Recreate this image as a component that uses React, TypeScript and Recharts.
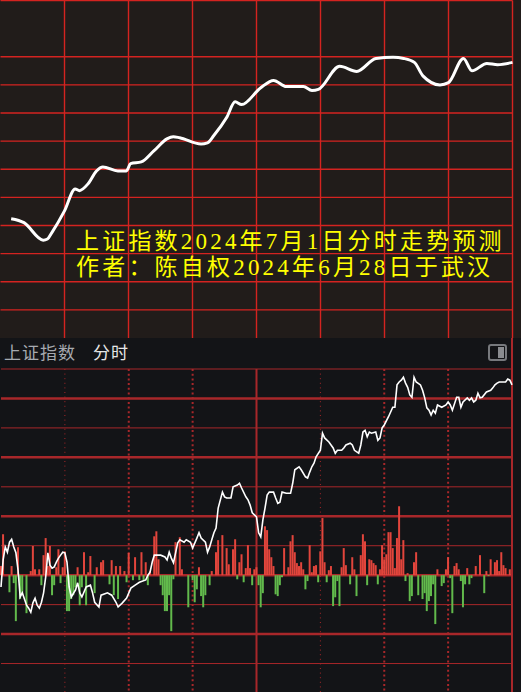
import React from 'react';
import { LineChart, ComposedChart, Line, Bar, Cell, XAxis, YAxis, CartesianGrid } from 'recharts';

// Session clock: 240 trading minutes, gridlines every half hour
const timeTicks = [0, 30, 60, 90, 120, 150, 180, 210, 240];

// Upper panel: forecast curve for 2024-07-01 [minute, index]
const forecastPoints: [number, number][] = [
  [5, 2951.2], [11, 2950.5], [20, 2947.4], [22, 2947.6], [24, 2948.7], [30, 2952.6],
  [35, 2956.5], [37, 2956.2], [41, 2957.4], [45, 2959.7], [48, 2960.4], [55, 2959.7],
  [59, 2959.7], [61, 2961.0], [66, 2961.3], [72, 2963.3], [78, 2965.4], [81, 2965.8],
  [84, 2965.6], [94, 2964.5], [97, 2964.7], [100, 2966.0], [106, 2969.2], [110, 2972.0],
  [113, 2971.5], [122, 2974.5], [128, 2975.8], [134, 2974.7], [142, 2974.7], [146, 2974.0],
  [149, 2974.2], [159, 2978.3], [167, 2977.4], [176, 2979.7], [184, 2979.9], [189, 2979.7],
  [194, 2979.0], [198, 2976.6], [206, 2975.0], [210, 2975.4], [217, 2979.7], [221, 2977.5],
  [228, 2978.8], [233, 2978.6], [240, 2979.0],
];
const forecastTicks = [2930, 2935, 2940, 2945, 2950, 2955, 2960, 2965, 2970, 2975, 2980, 2985, 2990];

// Lower panel: actual intraday index [minute, price]
const intradayPoints: [number, number][] = [
  [0, 2953.0], [1, 2957.6], [2, 2959.8], [3, 2958.9], [4, 2960.6], [5, 2961.1], [6, 2959.8],
  [7, 2958.8], [8, 2955.9], [9, 2951.3], [10, 2952.0], [12, 2949.9], [13, 2949.4], [14, 2948.7],
  [15, 2950.3], [16, 2951.1], [17, 2949.9], [18, 2949.4], [19, 2950.4], [20, 2952.0], [21, 2954.7],
  [22, 2958.8], [23, 2956.7], [24, 2956.2], [25, 2956.4], [26, 2957.2], [27, 2957.9], [28, 2958.4],
  [29, 2958.9], [30, 2958.8], [31, 2957.2], [32, 2953.0], [33, 2951.3], [35, 2952.5], [36, 2953.7],
  [37, 2952.0], [38, 2951.3], [40, 2953.0], [42, 2953.3], [43, 2952.0], [44, 2950.4], [46, 2949.6],
  [47, 2951.6], [50, 2952.0], [52, 2951.6], [54, 2950.4], [55, 2949.6], [57, 2950.3], [59, 2951.1],
  [61, 2952.8], [63, 2953.3], [65, 2953.8], [68, 2954.2], [69, 2955.0], [70, 2955.5], [71, 2957.2],
  [72, 2958.4], [75, 2958.4], [77, 2958.1], [78, 2957.6], [79, 2958.9], [80, 2957.9], [81, 2957.1],
  [82, 2958.8], [83, 2960.5], [84, 2961.0], [86, 2960.6], [87, 2961.0], [89, 2960.6], [90, 2959.6],
  [92, 2961.3], [93, 2962.2], [94, 2961.3], [96, 2960.6], [97, 2958.9], [98, 2959.8], [99, 2961.0],
  [100, 2962.2], [101, 2963.0], [102, 2966.4], [104, 2969.1], [105, 2968.3], [106, 2968.1], [108, 2968.1],
  [109, 2970.0], [111, 2970.3], [112, 2970.6], [113, 2969.8], [115, 2968.3], [116, 2967.8], [117, 2966.9],
  [118, 2965.6], [120, 2964.9], [121, 2962.2], [122, 2961.5], [123, 2964.4], [124, 2966.4], [125, 2968.6],
  [126, 2969.1], [128, 2969.1], [129, 2968.1], [130, 2967.2], [131, 2967.4], [132, 2969.1], [134, 2968.9],
  [136, 2968.9], [137, 2970.6], [138, 2972.9], [140, 2973.4], [141, 2972.9], [143, 2971.7], [144, 2971.5],
  [145, 2972.5], [146, 2973.4], [147, 2974.0], [148, 2975.1], [150, 2976.2], [151, 2979.1], [152, 2978.3],
  [154, 2977.6], [155, 2977.1], [156, 2976.6], [157, 2975.7], [158, 2976.2], [160, 2976.2], [161, 2976.6],
  [162, 2977.1], [164, 2977.4], [165, 2977.1], [166, 2976.2], [168, 2975.7], [169, 2977.1], [170, 2979.3],
  [171, 2979.6], [172, 2978.5], [173, 2979.3], [174, 2979.1], [176, 2979.3], [177, 2977.9], [178, 2978.3],
  [179, 2980.0], [180, 2980.5], [182, 2981.9], [184, 2983.5], [185, 2983.5], [186, 2987.3], [187, 2987.8],
  [188, 2988.1], [189, 2988.6], [190, 2987.6], [191, 2986.9], [192, 2985.6], [193, 2985.2], [194, 2988.6],
  [195, 2987.8], [197, 2987.3], [198, 2986.4], [199, 2985.1], [200, 2983.4], [201, 2983.0], [202, 2982.2],
  [203, 2983.0], [204, 2982.5], [205, 2983.9], [207, 2983.5], [209, 2983.9], [210, 2984.4], [211, 2983.9],
  [212, 2983.0], [214, 2985.2], [215, 2985.2], [216, 2983.5], [217, 2984.4], [219, 2985.1], [220, 2984.7],
  [221, 2985.1], [222, 2984.4], [223, 2984.7], [224, 2985.9], [225, 2985.1], [226, 2985.2], [228, 2986.1],
  [230, 2986.4], [231, 2986.8], [232, 2987.3], [233, 2987.6], [234, 2987.8], [237, 2987.8], [238, 2988.3],
  [239, 2988.1], [240, 2987.3],
];
const intradayTicks = [2935, 2940, 2945, 2950, 2955, 2960, 2965, 2970, 2975, 2980, 2985, 2990];
const thinLevels = [2940, 2950, 2960, 2970, 2980, 2990];
const thickLevels = [2945, 2955, 2965, 2975, 2985];

// Buy/sell pressure per minute: positive = red (up), negative = green (down)
const pressurePoints: [number, number][] = [
  [0, 3.1], [1, 13.9], [4, -5.8], [5, 3.1], [6, -2.7], [7, -15.6], [8, 9.5], [9, -8.1], [10, -6.8],
  [12, -12.9], [14, 1.4], [15, 9.9], [16, 2.0], [18, 2.0], [19, -3.4], [20, 6.8], [21, 12.6], [22, 3.1],
  [23, 9.9], [24, -6.8], [25, -3.4], [26, 2.7], [27, 8.8], [28, -2.7], [29, 2.7], [30, 8.1], [31, -12.2],
  [32, -12.2], [33, -8.1], [34, -6.8], [35, -4.1], [36, 2.7], [37, -10.2], [38, -4.1], [39, 7.8],
  [40, -10.2], [41, 1.0], [42, 6.5], [44, -6.1], [45, 2.7], [47, 4.4], [48, 5.1], [51, -3.1], [52, 5.1],
  [53, -6.8], [54, 3.1], [55, -8.1], [56, 3.1], [58, 1.4], [59, -2.4], [60, 7.5], [62, -1.7], [63, 6.1],
  [65, -1.7], [66, 7.8], [67, -1.7], [68, 4.4], [69, -3.4], [70, 1.4], [72, 13.2], [73, 14.9], [74, 5.4],
  [75, -3.4], [76, -6.8], [77, -12.2], [78, -12.2], [79, -6.8], [80, -19.0], [81, -1.4], [82, 11.2],
  [84, 12.9], [85, 2.0], [88, -10.9], [90, -1.7], [91, -9.2], [92, -4.8], [93, 2.7], [94, -7.1],
  [95, -10.9], [96, -6.8], [98, -3.4], [99, 1.4], [101, 7.8], [102, 11.9], [104, 13.6], [106, 9.2],
  [107, 3.7], [109, 8.8], [110, 12.2], [111, -1.4], [112, 4.4], [113, 7.1], [114, -2.4], [115, 2.4],
  [116, 10.2], [117, 2.4], [118, -3.4], [119, 2.0], [120, 2.7], [121, -3.4], [122, -10.9], [123, -6.1],
  [124, 16.6], [125, 15.3], [126, 8.8], [127, 6.1], [128, 3.1], [129, -6.5], [130, -7.1], [131, -3.4],
  [132, -0.7], [133, 9.2], [135, 2.7], [136, 11.5], [137, 13.6], [138, 7.8], [139, 4.1], [140, 3.1],
  [141, 4.4], [142, 2.0], [143, -4.8], [144, -2.0], [145, 10.2], [146, 1.0], [147, 3.1], [148, 3.4],
  [149, -2.4], [150, 8.1], [151, 19.4], [152, 4.4], [153, -2.4], [154, 1.7], [155, 3.1], [156, -10.5],
  [157, -7.5], [158, -2.0], [159, -10.5], [160, 2.7], [161, 9.2], [162, 3.4], [164, -3.1], [165, 6.1],
  [166, 2.0], [167, -7.1], [169, 6.8], [170, 13.9], [171, 11.5], [172, -3.4], [173, 5.4], [174, 5.1],
  [175, 4.1], [176, 3.4], [177, -3.1], [178, 2.0], [179, 10.2], [180, 5.4], [181, 7.1], [182, 14.6],
  [183, 14.6], [184, 9.2], [185, 2.4], [186, 12.6], [187, 23.4], [188, 5.4], [189, 11.9], [190, -2.0],
  [191, 0.7], [192, -8.8], [193, -7.1], [194, 4.4], [195, 7.8], [196, -6.8], [198, -8.1], [199, -6.1],
  [200, -12.2], [201, -8.8], [202, -7.1], [203, -3.1], [204, -16.6], [205, 2.0], [207, -3.7], [208, -2.7],
  [209, 2.0], [210, 6.1], [211, -1.0], [212, -12.9], [213, 3.1], [214, 4.1], [215, 2.0], [216, -2.0],
  [217, -10.9], [218, -3.1], [219, 2.4], [220, -3.1], [221, -1.0], [223, 3.1], [225, 6.8], [227, -6.1],
  [228, 1.4], [229, -0.3], [230, 5.4], [232, 4.4], [233, 5.1], [234, 1.4], [235, 7.8], [236, 3.4],
  [237, 2.4], [239, 2.0],
];

const titleLines = ['上证指数2024年7月1日分时走势预测', '作者：陈自权2024年6月28日于武汉'];
const panelName = '上证指数';
const panelMode = '分时';

const TOP_BG = '#211c1a';
const BOTTOM_BG = '#131417';
const TOP_GRID = '#d42320';
const BOTTOM_GRID = '#a8272a';
const UP = '#e2453c';
const DOWN = '#62ba4c';
const CJK = '"Noto Sans CJK SC", "Noto Sans", sans-serif';
const CAPTION_FONT = '"Liberation Serif", "Noto Sans CJK SC", serif';

const forecastData = forecastPoints.map(([t, v]) => ({ t, v }));
const intradayData = intradayPoints.map(([t, p]) => ({ t, p }));
const pressureData = pressurePoints.map(([t, vol]) => ({ t, vol }));

const captionStyle: React.CSSProperties = {
  position: 'absolute',
  left: 76,
  fontSize: 23,
  lineHeight: '26px',
  height: 26,
  letterSpacing: 3.2,
  whiteSpace: 'nowrap',
  color: '#ffff00',
  fontFamily: CAPTION_FONT,
};

export default function App() {
  return (
    <div style={{ position: 'absolute', left: 0, top: 0, width: 521, height: 692, background: BOTTOM_BG, overflow: 'hidden' }}>
      {/* forecast panel */}
      <div style={{ position: 'absolute', left: 0, top: 0, width: 521, height: 338, background: TOP_BG }}>
        <LineChart width={521} height={338} data={forecastData} margin={{ top: 0.5, right: 8.5, bottom: 0, left: 0.5 }}>
          <XAxis type="number" dataKey="t" domain={[0, 240]} ticks={timeTicks} hide />
          <YAxis type="number" domain={[2930, 2990]} ticks={forecastTicks} hide />
          <CartesianGrid stroke={TOP_GRID} strokeWidth={1.4} horizontalValues={forecastTicks} verticalValues={timeTicks} />
          <Line dataKey="v" type="monotone" stroke="#ffffff" strokeWidth={3} dot={false} isAnimationActive={false} />
        </LineChart>
      </div>
      <div style={{ ...captionStyle, top: 229 }}>{titleLines[0]}</div>
      <div style={{ ...captionStyle, top: 255 }}>{titleLines[1]}</div>

      {/* intraday panel header */}
      <div style={{ position: 'absolute', left: 4, top: 342, fontSize: 17, lineHeight: '20px', letterSpacing: 1, color: '#a6aab0', fontFamily: CJK }}>
        {panelName}
      </div>
      <div style={{ position: 'absolute', left: 93, top: 342, fontSize: 17, lineHeight: '20px', letterSpacing: 1, color: '#e6e6e6', fontFamily: CJK }}>
        {panelMode}
      </div>
      <div style={{ position: 'absolute', left: 488, top: 344, width: 19, height: 17, border: '2px solid #77797d', borderRadius: 3, boxSizing: 'border-box' }}>
        <div style={{ position: 'absolute', left: 8, top: 1, width: 6, height: 11, background: '#8a8c90' }} />
      </div>
      <div style={{ position: 'absolute', left: 511, top: 338, width: 2, height: 32, background: BOTTOM_GRID }} />

      {/* intraday panel chart */}
      <div style={{ position: 'absolute', left: 0, top: 338, width: 521, height: 355 }}>
        <ComposedChart width={521} height={355} data={pressureData} margin={{ top: 31, right: 9, bottom: 0, left: 1 }}>
          <XAxis type="number" dataKey="t" domain={[0, 240]} ticks={timeTicks} hide />
          <YAxis type="number" domain={[2935, 2990]} ticks={intradayTicks} hide />
          <YAxis yAxisId="vol" type="number" domain={[-40, 70]} hide />
          <CartesianGrid vertical={false} horizontalValues={thinLevels} stroke={BOTTOM_GRID} strokeWidth={1} />
          <CartesianGrid vertical={false} horizontalValues={thickLevels} stroke={BOTTOM_GRID} strokeWidth={2.5} />
          <CartesianGrid horizontal={false} verticalValues={[30, 150]} stroke={BOTTOM_GRID} strokeWidth={1} strokeDasharray="1 3.6" />
          <CartesianGrid horizontal={false} verticalValues={[60, 90, 180, 210]} stroke={BOTTOM_GRID} strokeWidth={2} strokeDasharray="2 2.7" />
          <CartesianGrid horizontal={false} verticalValues={[0, 120, 240]} stroke={BOTTOM_GRID} strokeWidth={2} />
          <Bar dataKey="vol" yAxisId="vol" barSize={2} isAnimationActive={false}>
            {pressureData.map((d, i) => (
              <Cell key={i} fill={d.vol >= 0 ? UP : DOWN} />
            ))}
          </Bar>
          <Line data={intradayData} dataKey="p" type="linear" stroke="#ffffff" strokeWidth={1.6} dot={false} isAnimationActive={false} />
        </ComposedChart>
      </div>
    </div>
  );
}
